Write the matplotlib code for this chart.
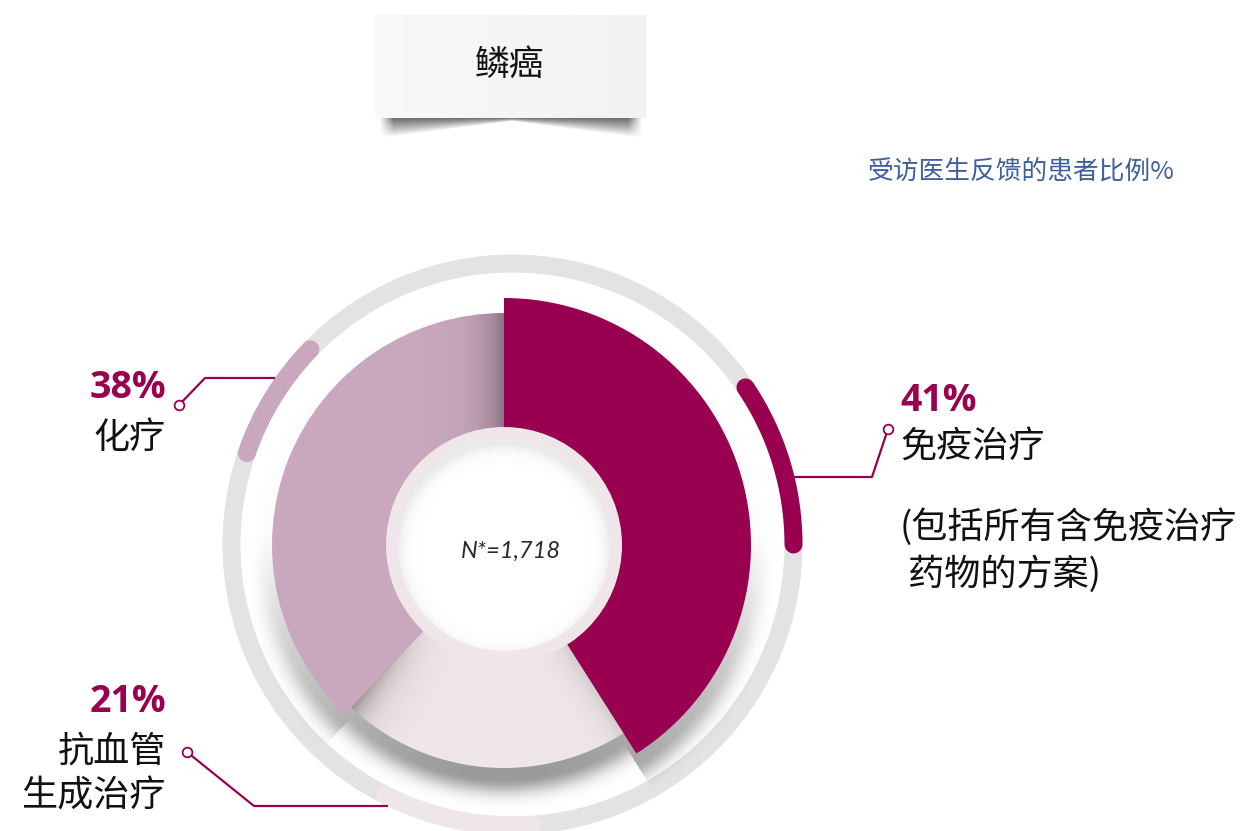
import numpy as np
import matplotlib.pyplot as plt
from matplotlib.patches import Wedge, Circle, Arc

plt.rcParams['font.family'] = ['Noto Sans CJK SC', 'DejaVu Sans']

# ---- data ----
title = "鳞癌"
subtitle = "受访医生反馈的患者比例%"
sample_note = "N*=1,718"
categories = ["免疫治疗", "抗血管生成治疗", "化疗"]
shares = [41, 21, 38]
label_lines = [["免疫治疗"], ["抗血管", "生成治疗"], ["化疗"]]
note_lines = ["(包括所有含免疫治疗", " 药物的方案)"]

# ---- style ----
dark = "#990050"
colors = ["#990050", "#efe6e8", "#c9a8bd"]
radii = [247, 223, 232]
cx, cy = 504, 545          # pie centre (pixels)
rcx, rcy, rr = 512.5, 544.5, 281   # outer grey ring
ring_w = 18
W, H = 1246, 831

fig = plt.figure(figsize=(W / 100, H / 100), dpi=100)
ax = fig.add_axes([0, 0, 1, 1])
ax.set_xlim(0, W)
ax.set_ylim(H, 0)
ax.axis("off")

Y, X = np.mgrid[0:H, 0:W] + 0.5

def shade(alpha, z, clip=None):
    img = np.zeros((H, W, 4))
    img[..., 3] = np.clip(alpha, 0, 1)
    im = ax.imshow(img, extent=(0, W, H, 0), zorder=z, aspect="auto",
                   interpolation="bilinear")
    if clip is not None:
        im.set_clip_path(clip)
    return im

# slice angles (clockwise from 12 o'clock; y axis points down)
bounds = [-90]
for s in shares:
    bounds.append(bounds[-1] + s * 3.6)

# ---- grey ring and highlight arcs ----
ax.add_patch(Wedge((rcx, rcy), rr + ring_w / 2, 0, 360, width=ring_w,
                   facecolor="#e3e3e3", edgecolor="none", zorder=1))
lw_pt = ring_w * 0.72
for (a1, a2), c in zip([(-34, 0), (199, 224), (86, 117)],
                       [colors[0], colors[2], colors[1]]):
    arc = Arc((rcx, rcy), 2 * rr, 2 * rr, theta1=a1, theta2=a2, color=c,
              lw=lw_pt, zorder=2)
    arc.set_capstyle("round")
    ax.add_patch(arc)

# ---- soft drop shadow of the donut (stronger underneath) ----
off = 10
th = np.degrees(np.arctan2(Y - cy - off, X - cx))
th = np.where(th < -90, th + 360, th)
R = np.select([th < bounds[1], th < bounds[2]], [radii[0], radii[1]], radii[2])
d = np.hypot(X - cx, Y - cy - off) - R
amp = 0.40 * np.clip(0.12 + 0.88 * np.sin(np.radians(th)), 0.04, 1)
shade(amp * np.exp(-np.maximum(d, 0) ** 2 / (2 * 11 ** 2)), 3)

# ---- slices ----
wedges = []
for i, (v, c, r) in enumerate(zip(shares, colors, radii)):
    w = Wedge((cx, cy), r, bounds[i], bounds[i + 1], facecolor=c,
              edgecolor="none", zorder=4)
    ax.add_patch(w)
    wedges.append(w)

# shadow cast by the chemo slice onto the light slice
b = np.radians(bounds[2])
dist = np.abs((X - cx) * np.sin(b) - (Y - cy) * np.cos(b))
rad = np.hypot(X - cx, Y - cy)
shade(0.40 * np.exp(-dist / 16) * np.clip((rad - 100) / 130, 0, 1), 5, wedges[1])
b = np.radians(bounds[1])
dist = np.abs((X - cx) * np.sin(b) - (Y - cy) * np.cos(b))
shade(0.12 * np.exp(-dist / 12), 5, wedges[1])
# shading on the chemo slice next to the immunotherapy slice
shade(0.32 * np.exp(-np.abs(X - cx) / 20) * (Y < cy), 5, wedges[2])

# ---- centre hole ----
ax.add_patch(Circle((cx, cy), 118, facecolor="#efe6e9", edgecolor="none", zorder=6))
hole = Circle((cx, cy), 106, facecolor="white", edgecolor="none", zorder=7)
ax.add_patch(hole)
dh = 106 - np.hypot(X - cx, Y - cy - 6)
shade(0.08 * np.exp(-np.maximum(dh, 0) / 7), 8, hole)
ax.text(cx + 7, 551, sample_note, ha="center", va="center", fontsize=17,
        family=["Lato", "DejaVu Sans"], style="italic", weight="normal",
        color="#2a2a2a", zorder=9)

# ---- title box ----
grad = np.linspace(0.975, 0.95, 200)[None, :, None] * np.ones((10, 200, 3))
ax.imshow(grad, extent=(375, 646, 118, 15), zorder=2, aspect="auto")
ax.text(510, 65, title, ha="center", va="center", fontsize=25, color="#111111", zorder=3)
yb = np.where(X < 512, 138 - (X - 382) / 130 * 17, 121 + (X - 512) / 128 * 17)
t = (Y - 118) / np.maximum(yb - 118, 1)
edge = np.clip(np.minimum(X - 380, 642 - X) / 14, 0, 1)
box_a = np.where((t >= 0) & (t <= 1), 0.58 * (1 - t) ** 0.9, 0) * edge
shade(box_a * ((X > 380) & (X < 642)), 1)

ax.text(1175, 172, subtitle, ha="right", va="center", fontsize=18.5,
        color="#3f5f9f", style="italic")

# ---- leader lines ----
leaders = [[(792, 477), (872, 477), (888, 429)],
           [(388, 806), (254, 806), (187, 752)],
           [(275, 378), (205, 378), (179, 405)]]
for pts in leaders:
    xs, ys = zip(*pts)
    ax.plot(xs, ys, color=dark, lw=1.6, zorder=10, solid_capstyle="butt")
    ax.plot(xs[-1], ys[-1], "o", ms=7, mfc="white", mec=dark, mew=1.3, zorder=11)

# ---- labels ----
pct_font = dict(family=["Open Sans", "DejaVu Sans"], weight="bold",
                fontsize=27, color=dark)
lab_font = dict(fontsize=26, color="#111111")
# immunotherapy (right)
ax.text(900, 401, f"{shares[0]}%", ha="left", va="center", **pct_font)
ax.text(900, 448, label_lines[0][0], ha="left", va="center", **lab_font)
ax.text(900, 527, note_lines[0], ha="left", va="center", **lab_font)
ax.text(900, 574, note_lines[1], ha="left", va="center", **lab_font)
# anti-angiogenic (bottom left)
ax.text(166, 702, f"{shares[1]}%", ha="right", va="center", **pct_font)
ax.text(166, 752, label_lines[1][0], ha="right", va="center", **lab_font)
ax.text(166, 797, label_lines[1][1], ha="right", va="center", **lab_font)
# chemo (left)
ax.text(166, 388, f"{shares[2]}%", ha="right", va="center", **pct_font)
ax.text(166, 438, label_lines[2][0], ha="right", va="center", **lab_font)

ax.set_xlim(0, W)
ax.set_ylim(H, 0)
fig.savefig("out.png", dpi=100)
